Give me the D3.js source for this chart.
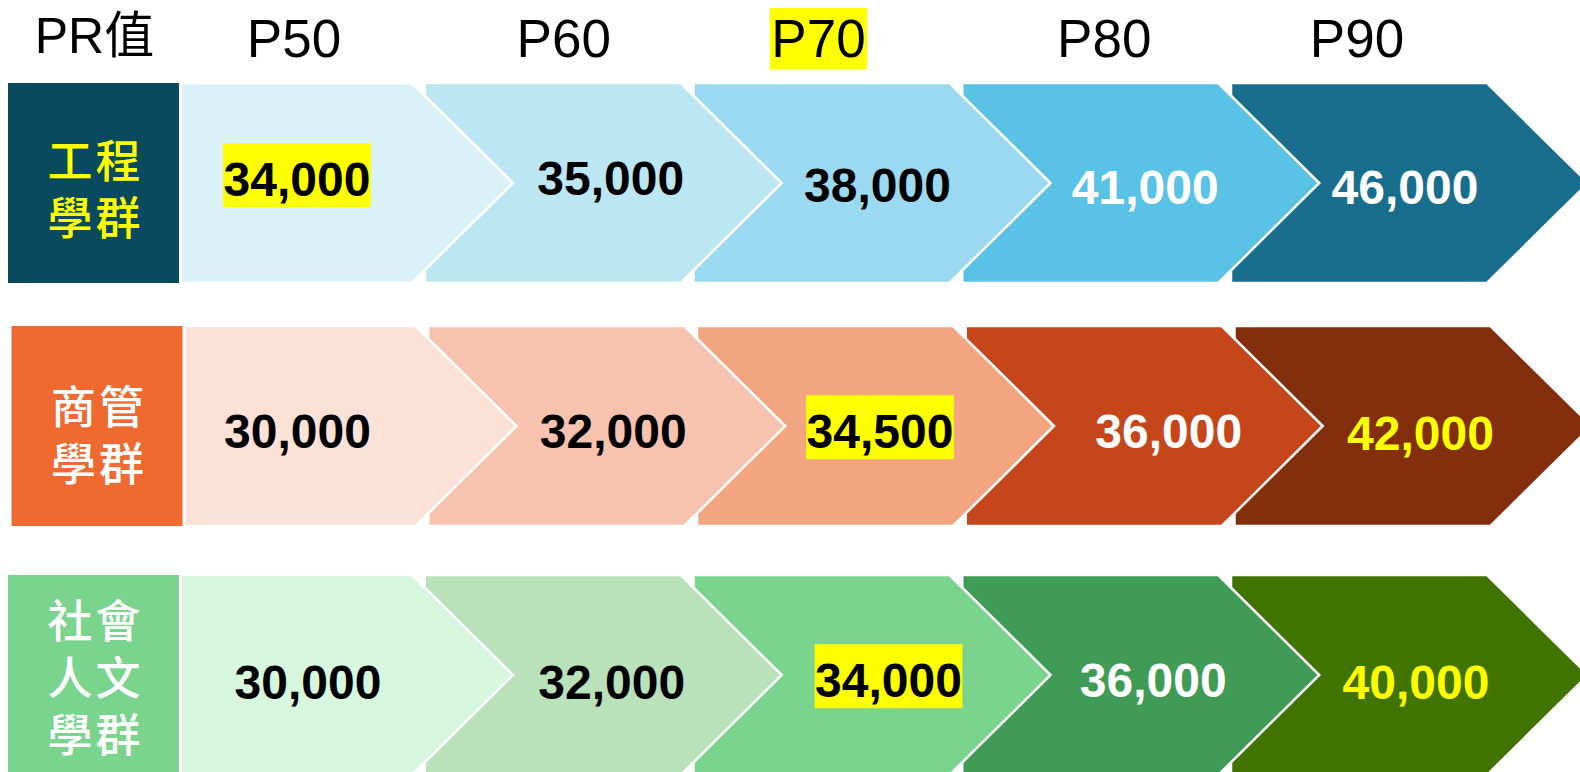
<!DOCTYPE html>
<html>
<head>
<meta charset="utf-8">
<script src="https://cdn.jsdelivr.net/npm/d3@7/dist/d3.min.js"></script>
<style>
  html, body { margin: 0; padding: 0; background: #ffffff; }
  svg { display: block; }
</style>
</head>
<body>
<svg id="chart" width="1580" height="772"></svg>
<script>
// ---------------- DATA ----------------
const headerTitle = "PR值";
const percentiles = ["P50", "P60", "P70", "P80", "P90"];
const groups = ["工程學群", "商管學群", "社會人文學群"];
const groupLabelLines = [["工程", "學群"], ["商管", "學群"], ["社會", "人文", "學群"]];
const engineering = [34000, 35000, 38000, 41000, 46000];
const business = [30000, 32000, 34500, 36000, 42000];
const humanities = [30000, 32000, 34000, 36000, 40000];
const highlightedPercentile = ["P50", "P70", "P70"];   // per group
const highlightedHeader = "P70";

// ---------------- STYLE / LAYOUT ----------------
const groupValues = [engineering, business, humanities];
const labelBoxColors = ["#0a4a5f", "#ee6a31", "#7ad48d"];
const labelTextColors = ["#ffff00", "#ffffff", "#ffffff"];
const chevronColors = [
  ["#dbf1f8", "#bde6f3", "#9bd9f0", "#59c2e5", "#186e8c"],
  ["#fbe1d6", "#f8c3ae", "#f3a582", "#c5461a", "#832f0e"],
  ["#d6f6de", "#b9e1ba", "#7ad48d", "#3f9b55", "#417300"]
];
const valueTextColors = [
  ["#000", "#000", "#000", "#fff", "#fff"],
  ["#000", "#000", "#000", "#fff", "#ffff00"],
  ["#000", "#000", "#000", "#fff", "#ffff00"]
];
// small manual text nudges (layout only)
const valueNudgeX = [[0, 7.5, 5.5, 4.5, -4.5], [-3, 6.5, 4.5, 24.5, 7.5], [11, 8.5, 16.5, 12.5, 6.5]];
const valueNudgeY = [[-4, -5, 1.5, 3.5, 3.5], [5, 5, 5, 5, 7], [7, 7, 5, 5, 7]];
const headerNudgeX = [3, 4, -10, 7, -9];
const labelLineNudge = [6.5, 9.5, 3.5];

const W = 1580, H = 772;
const rowH = 200, chevW = 357, chevDepth = 101, bodyW = chevW - chevDepth;
const labelLeft = 8, labelRight = 179;

const svg = d3.select("#chart");

const x = d3.scalePoint().domain(percentiles).range([156, 1231]);
const rowY = d3.scaleOrdinal().domain(groups).range([83, 326, 575]);
const rowDx = d3.scaleOrdinal().domain(groups).range([0, 3.5, 0]);

const fmt = d3.format(",");

// ---------------- HEADER ----------------
const headerFont = 53;
svg.append("text")
  .attr("x", (labelLeft + labelRight) / 2 + 1)
  .attr("y", 53)
  .attr("text-anchor", "middle")
  .style("font-family", "'Liberation Sans', Arial, 'Noto Sans CJK TC', sans-serif")
  .style("font-size", "50px")
  .attr("fill", "#000")
  .text(headerTitle);

const headerG = svg.append("g");
percentiles.forEach((p, i) => {
  const cx = x(p) + 135 + headerNudgeX[i];
  const baseline = 57;
  const t = headerG.append("text")
    .attr("x", cx).attr("y", baseline)
    .attr("text-anchor", "middle")
    .style("font-family", "'Liberation Sans', Arial, sans-serif")
    .style("font-size", headerFont + "px")
    .attr("fill", "#000")
    .text(p);
  if (p === highlightedHeader) {
    const w = t.node().getComputedTextLength();
    headerG.insert("rect", "text")
      .attr("x", cx - w / 2 - 1.5).attr("y", 8)
      .attr("width", w + 3).attr("height", 61)
      .attr("fill", "#ffff00");
  }
});

// ---------------- ROWS ----------------
groups.forEach((g, gi) => {
  const y0 = rowY(g);
  const dx = rowDx(g);
  const row = svg.append("g");

  // chevrons drawn right-to-left so each earlier one overlaps the next
  const cols = percentiles.map((p, i) => ({ p, i })).reverse();
  row.selectAll("polygon.chev")
    .data(cols)
    .join("polygon")
    .attr("class", "chev")
    .attr("points", d => {
      const x0 = x(d.p) + dx;
      return [
        [x0, y0],
        [x0 + bodyW, y0],
        [x0 + chevW, y0 + rowH / 2],
        [x0 + bodyW, y0 + rowH],
        [x0, y0 + rowH]
      ].map(pt => pt.join(",")).join(" ");
    })
    .attr("fill", d => chevronColors[gi][d.i])
    .attr("stroke", "#ffffff")
    .attr("stroke-width", 2.5)
    .attr("stroke-linejoin", "miter");

  // label box
  const lx = labelLeft + dx;
  row.append("rect")
    .attr("x", lx - 1.5).attr("y", y0 - 1.5)
    .attr("width", labelRight - labelLeft + 3).attr("height", rowH + 3)
    .attr("fill", labelBoxColors[gi])
    .attr("stroke", "#ffffff").attr("stroke-width", 3);

  const lines = groupLabelLines[gi];
  const lfs = 45, lineGap = 57;
  const midY = y0 + rowH / 2 + labelLineNudge[gi];
  const lt = row.append("text")
    .attr("text-anchor", "middle")
    .style("font-family", "'Noto Sans CJK TC', 'Noto Sans CJK SC', sans-serif")
    .style("font-weight", 500)
    .style("font-size", lfs + "px")
    .style("letter-spacing", "3px")
    .attr("fill", labelTextColors[gi]);
  lines.forEach((ln, li) => {
    const cy = midY + (li - (lines.length - 1) / 2) * lineGap;
    lt.append("tspan")
      .attr("x", lx + (labelRight - labelLeft) / 2 + 2)
      .attr("y", cy + 0.37 * lfs)
      .text(ln);
  });

  // values
  const vfs = 48;
  groupValues[gi].forEach((v, i) => {
    const p = percentiles[i];
    const x0 = x(p) + dx;
    let cx;
    if (i === 0) cx = (labelRight + dx + 3 + x0 + bodyW) / 2;
    else cx = x0 + chevW / 2;
    cx += valueNudgeX[gi][i];
    const cy = y0 + rowH / 2 + valueNudgeY[gi][i];
    const baseline = cy + 0.358 * vfs;
    const t = row.append("text")
      .attr("x", cx).attr("y", baseline)
      .attr("text-anchor", "middle")
      .style("font-family", "'Liberation Sans', Arial, sans-serif")
      .style("font-weight", 700)
      .style("font-size", vfs + "px")
      .attr("fill", valueTextColors[gi][i])
      .text(fmt(v));
    if (highlightedPercentile[gi] === p) {
      const w = t.node().getComputedTextLength();
      row.insert("rect", function () { return t.node(); })
        .attr("x", cx - w / 2 - 0.5).attr("y", baseline - 53)
        .attr("width", w + 1).attr("height", 64)
        .attr("fill", "#ffff00");
    }
  });
});
</script>
</body>
</html>
